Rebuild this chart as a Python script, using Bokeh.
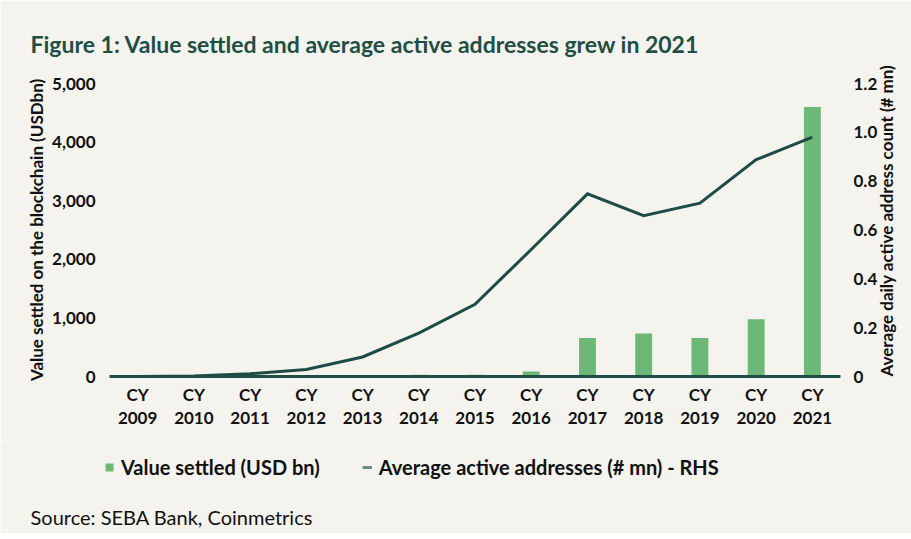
import math
from bokeh.plotting import figure
from bokeh.layouts import column
from bokeh.models import (ColumnDataSource, FactorRange, Range1d, LinearAxis, FixedTicker,
                          NumeralTickFormatter, CustomJSTickFormatter, Label, Legend, LegendItem)
from bokeh.embed import file_html
from bokeh.resources import INLINE

# ---- data ----
years = ["2009", "2010", "2011", "2012", "2013", "2014", "2015",
         "2016", "2017", "2018", "2019", "2020", "2021"]
categories = ["CY\n" + y for y in years]
value_settled = [0, 0, 2, 5, 10, 30, 30, 85, 655, 735, 655, 975, 4600]          # USD bn
active_addresses = [0.0, 0.002, 0.011, 0.029, 0.08, 0.178, 0.296, 0.52,
                    0.748, 0.659, 0.71, 0.888, 0.98]                              # mn (RHS)
left_ticks = [0, 1000, 2000, 3000, 4000, 5000]
right_ticks = [0, 0.2, 0.4, 0.6, 0.8, 1.0, 1.2]

title_text = "Figure 1: Value settled and average active addresses grew in 2021"
left_label = "Value settled on the blockchain (USDbn)"
right_label = "Average daily active address count  (# mn)"
source_text = "Source: SEBA Bank, Coinmetrics"
bar_name = "Value settled (USD bn)"
line_name = "Average active addresses (# mn) - RHS"

# ---- style ----
BG = "#f4f3ee"
BAR = "#6db877"
LINE = "#1d4c47"
TITLE = "#1f4e45"
TXT = "#111111"
FONT = "Lato"

W = 911
H_MAIN, H_FOOT = 440, 93
src = ColumnDataSource(dict(cat=categories, val=value_settled, addr=active_addresses))

p = figure(width=W, height=H_MAIN, x_range=FactorRange(factors=categories, range_padding=0),
           y_range=Range1d(0, 5000), output_backend="svg", toolbar_location=None,
           min_border_left=109, min_border_right=W - 840, min_border_top=83,
           min_border_bottom=H_MAIN - 376,
           background_fill_color=BG, border_fill_color=BG, outline_line_color=None)
p.frame_align = False
p.xgrid.grid_line_color = None
p.ygrid.grid_line_color = None
p.extra_y_ranges = {"rhs": Range1d(0, 1.2)}

bars = p.vbar(x="cat", top="val", width=0.3, source=src, fill_color=BAR, line_color=None)
line = p.line(x="cat", y="addr", source=src, y_range_name="rhs", line_color=LINE,
              line_width=3, line_join="miter")

# title
p.title.text = title_text
p.title.align = "left"
p.title.offset = -79
p.title.standoff = 52
p.title.text_font = FONT
p.title.text_font_style = "bold"
p.title.text_font_size = "23px"
p.title.text_color = TITLE

# left axis
ya = p.yaxis[0]
ya.ticker = FixedTicker(ticks=left_ticks)
ya.formatter = NumeralTickFormatter(format="0,0")
ya.axis_line_color = None
ya.major_tick_line_color = None
ya.minor_tick_line_color = None
ya.major_label_standoff = 8
ya.major_label_text_font = FONT
ya.major_label_text_font_style = "bold"
ya.major_label_text_font_size = "17px"
ya.major_label_text_color = TXT
ya.axis_label = left_label
ya.axis_label_standoff = 2
ya.axis_label_text_font = FONT
ya.axis_label_text_font_style = "bold"
ya.axis_label_text_font_size = "17px"
ya.axis_label_text_color = TXT

# right axis
ra = LinearAxis(y_range_name="rhs", ticker=FixedTicker(ticks=right_ticks),
                formatter=CustomJSTickFormatter(code="return tick == 0 ? '0' : tick.toFixed(1);"))
ra.axis_line_color = None
ra.major_tick_line_color = None
ra.minor_tick_line_color = None
ra.major_label_standoff = 7
ra.major_label_text_font = FONT
ra.major_label_text_font_style = "bold"
ra.major_label_text_font_size = "17px"
ra.major_label_text_color = TXT
ra.axis_label = right_label
ra.axis_label_standoff = 6
ra.axis_label_orientation = math.pi / 2
if "axis_label_align" in ra.properties():
    ra.axis_label_align = "start"
ra.axis_label_text_font = FONT
ra.axis_label_text_font_style = "bold"
ra.axis_label_text_font_size = "17px"
ra.axis_label_text_color = TXT
p.add_layout(ra, "right")

# x axis
xa = p.xaxis[0]
xa.axis_line_color = LINE
xa.axis_line_width = 3
xa.major_tick_line_color = None
xa.minor_tick_line_color = None
xa.major_label_standoff = 1
xa.major_label_text_font = FONT
xa.major_label_text_font_style = "bold"
xa.major_label_text_font_size = "17px"
xa.major_label_text_color = TXT
xa.major_label_text_line_height = 1.1

# ---- footer figure: legend + source ----
f = figure(width=W, height=H_FOOT, x_range=Range1d(0, W), y_range=Range1d(0, H_FOOT),
           x_axis_type=None, y_axis_type=None, output_backend="svg", toolbar_location=None,
           min_border=0, background_fill_color=BG, border_fill_color=BG,
           outline_line_color=None)
f.frame_align = False
f.xgrid.grid_line_color = None
f.ygrid.grid_line_color = None
nan = float("nan")
bar_key = f.vbar(x=[nan], top=[nan], width=1, fill_color=BAR, line_color=None)
line_key = f.line(x=[nan], y=[nan], line_color="#708d87", line_width=3)
legend = Legend(items=[LegendItem(label=bar_name, renderers=[bar_key]),
                       LegendItem(label=line_name, renderers=[line_key])],
                orientation="horizontal", location=(104, H_FOOT - 39),
                glyph_width=10, glyph_height=10, label_standoff=7, spacing=42,
                padding=0, margin=0, border_line_color=None, background_fill_alpha=0,
                label_text_font=FONT, label_text_font_style="bold",
                label_text_font_size="20px", label_text_color=TXT)
f.add_layout(legend, "center")
f.add_layout(Label(x=30, y=H_FOOT - 76, text=source_text, text_font=FONT,
                   text_font_size="20px", text_color=TXT, text_baseline="middle"))

open("out.html", "w").write(file_html(column(p, f, spacing=0), INLINE))
